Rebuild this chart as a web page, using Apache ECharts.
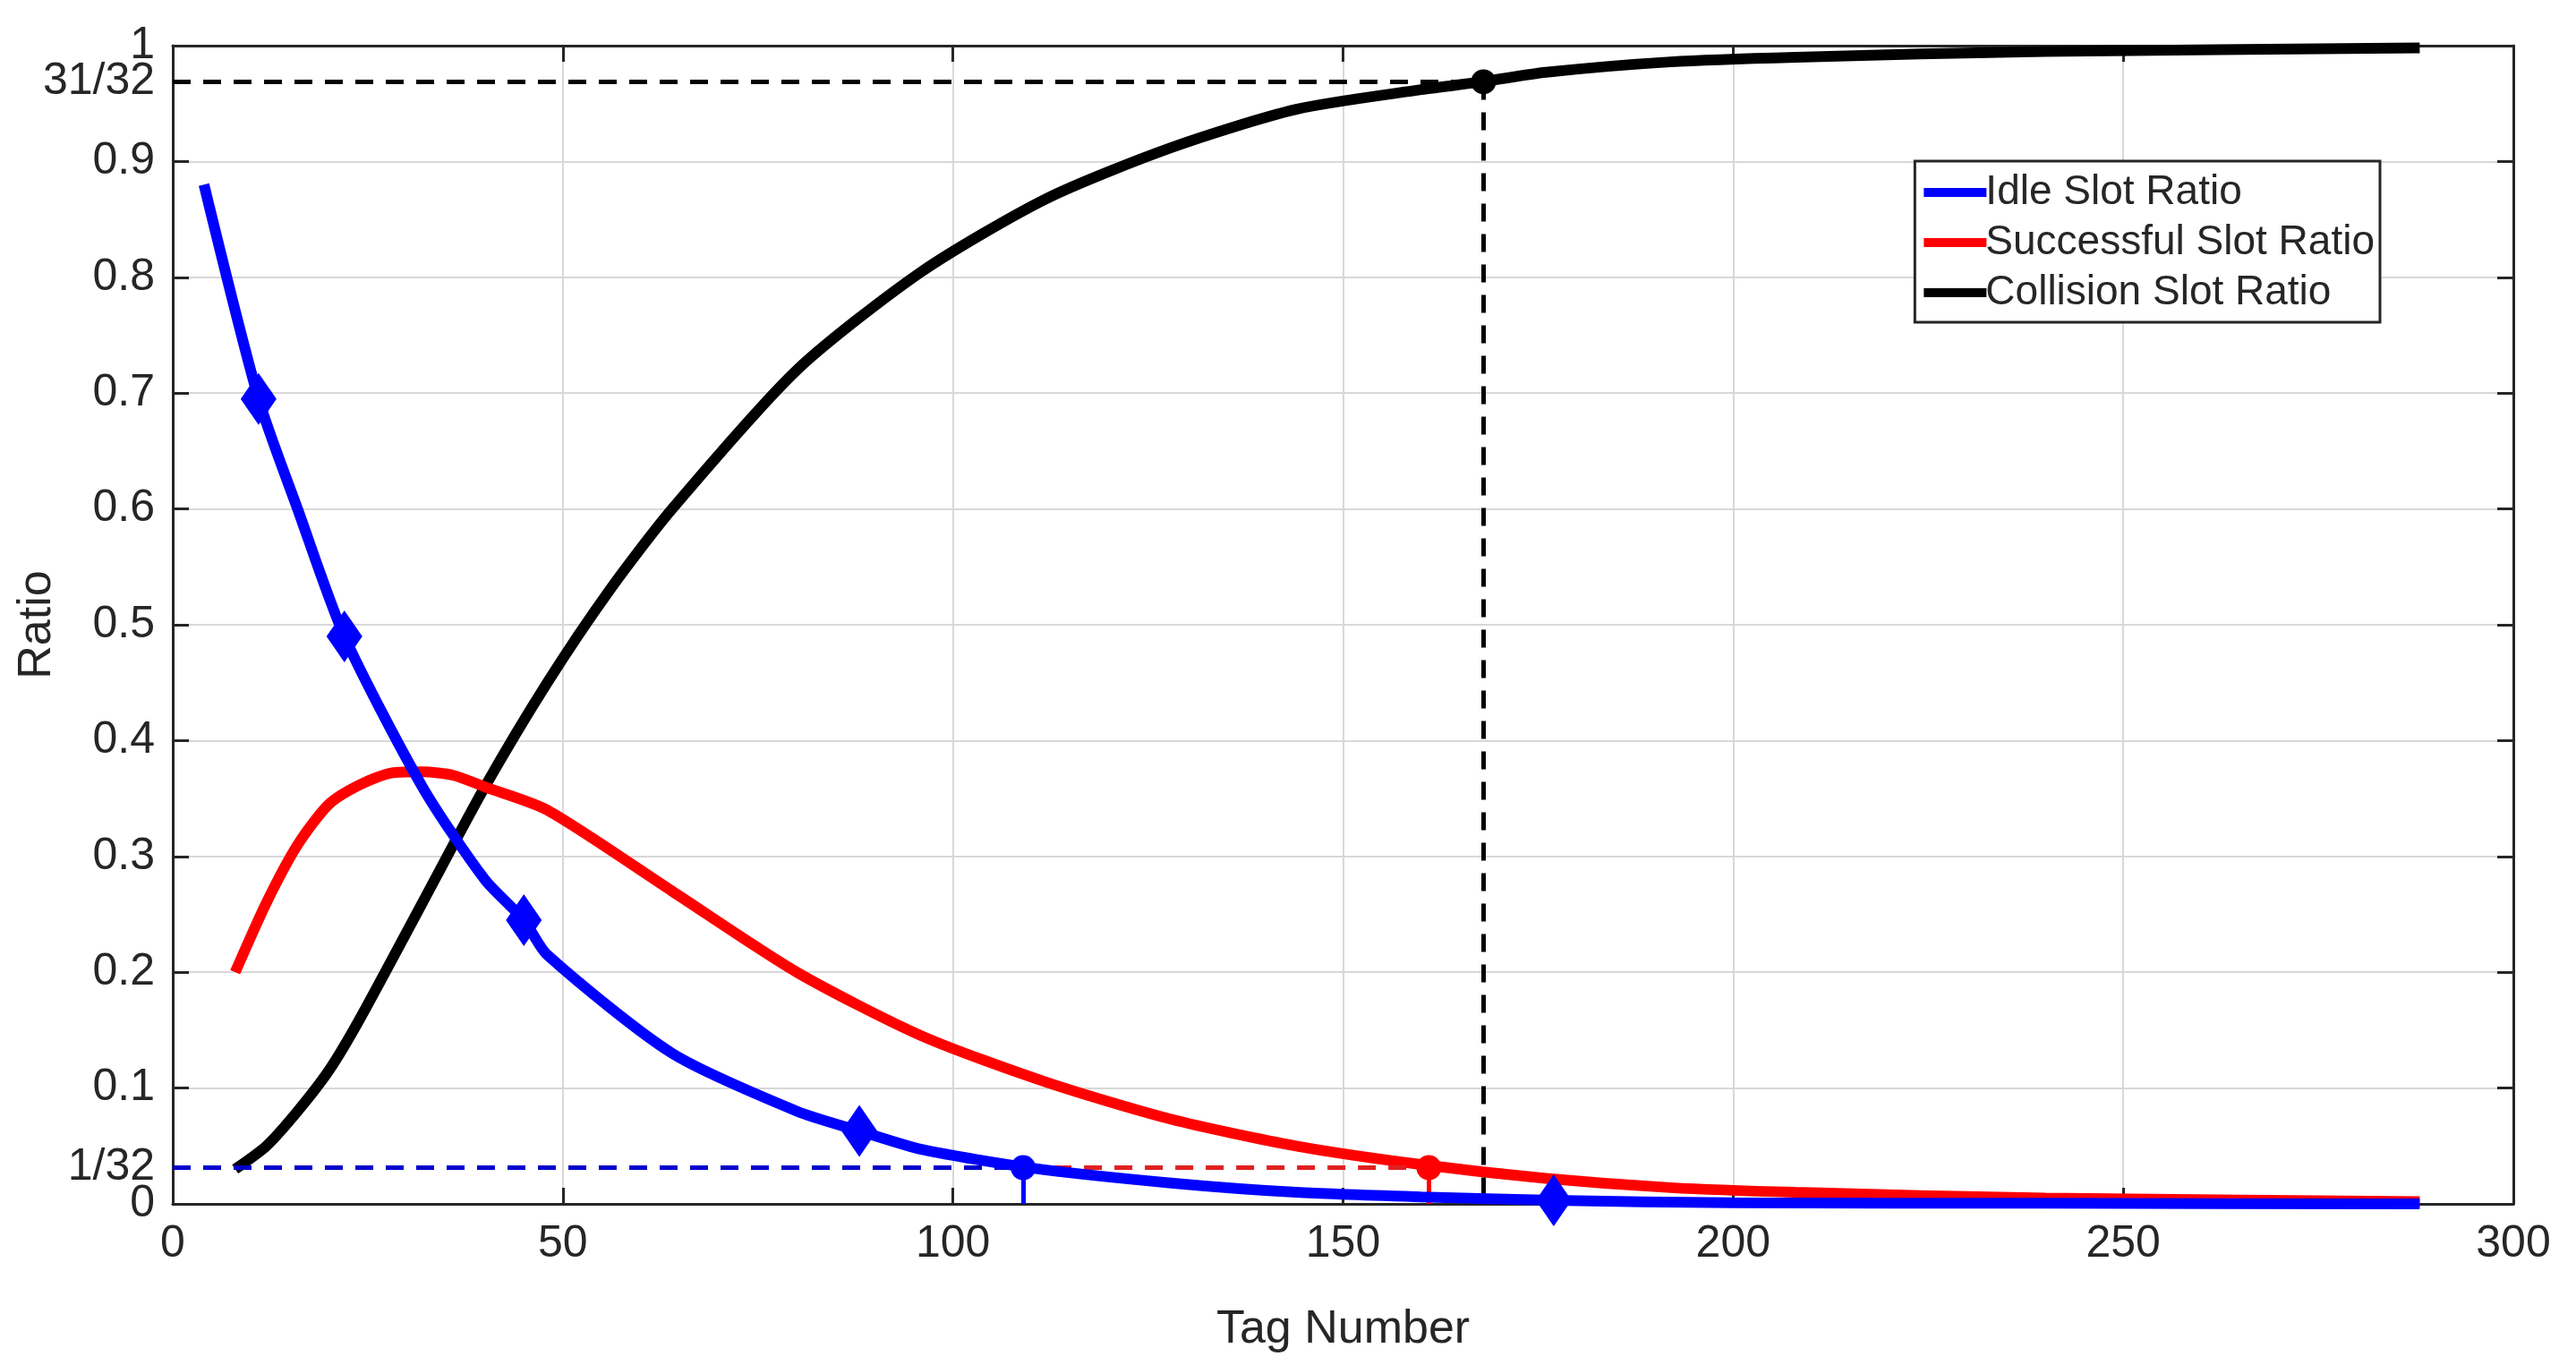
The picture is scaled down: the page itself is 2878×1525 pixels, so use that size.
<!DOCTYPE html>
<html><head><meta charset="utf-8">
<script src="https://cdn.jsdelivr.net/npm/echarts@6/dist/echarts.min.js"></script>
<style>html,body{margin:0;background:#fff}#c{width:2878px;height:1525px}</style>
</head><body><div id="c"></div>
<script>
// 读图估计的数据
var idleX = [4, 11, 16, 22, 32, 40, 45, 48, 64, 80, 88, 96, 110, 128, 144, 160, 177, 200, 240, 288];
var idleY = [0.88, 0.695, 0.6, 0.49, 0.36, 0.28, 0.245, 0.215, 0.13, 0.08, 0.063, 0.047, 0.031, 0.018, 0.01, 0.006, 0.003, 0.001, 0.0005, 0];
var idleMarks = [11, 22, 45, 88, 177];
var succX = [8, 12, 16, 20, 24, 28, 32, 36, 40, 48, 64, 80, 96, 112, 128, 144, 160, 176, 192, 208, 240, 288];
var succY = [0.2, 0.26, 0.31, 0.345, 0.362, 0.372, 0.373, 0.37, 0.36, 0.34, 0.27, 0.2, 0.145, 0.105, 0.073, 0.05, 0.034, 0.022, 0.014, 0.01, 0.005, 0.002];
var collX = [8, 12, 16, 20, 24, 32, 40, 48, 56, 64, 80, 96, 112, 128, 144, 160, 168, 176, 192, 208, 240, 288];
var collY = [0.03, 0.05, 0.08, 0.115, 0.16, 0.26, 0.36, 0.45, 0.53, 0.6, 0.72, 0.805, 0.868, 0.912, 0.945, 0.962, 0.969, 0.977, 0.986, 0.99, 0.995, 0.998];
var idleCross = 109, succCross = 161, collCross = 168;
var lo = 1 / 32, hi = 31 / 32;

function zip(xs, ys) { return xs.map(function (x, i) { return [x, ys[i]]; }); }
var idleData = zip(idleX, idleY).map(function (p) {
    return idleMarks.indexOf(p[0]) >= 0 ? { value: p, symbol: 'diamond', symbolSize: [40, 58] } : { value: p, symbol: 'none' };
});

var font = 'Liberation Sans';
var myChart = echarts.init(document.getElementById('c'));
var axisCommon = {
    axisLine: { show: true, onZero: false, lineStyle: { color: '#262626', width: 3 } },
    axisTick: { show: true, inside: true, length: 18, lineStyle: { color: '#262626', width: 3 } },
    axisLabel: { color: '#262626', fontSize: 50, fontFamily: font, margin: 20 },
    splitLine: { show: true, lineStyle: { color: '#d8d8d8', width: 2 } }
};
var lblStyle = { fontSize: 50, fontFamily: font, color: '#262626', distance: 20 };
var option = {
    animation: false,
    grid: { left: 193, right: 70, top: 51, bottom: 180 },
    xAxis: [
        Object.assign({ type: 'value', min: 0, max: 300, interval: 50, name: 'Tag Number', nameLocation: 'middle', nameGap: 115,
            nameTextStyle: { fontSize: 52, fontFamily: font, color: '#262626' } }, axisCommon),
        { type: 'value', min: 0, max: 300, interval: 50, position: 'top',
            axisLine: axisCommon.axisLine, axisTick: axisCommon.axisTick, axisLabel: { show: false }, splitLine: { show: false } }
    ],
    yAxis: [
        Object.assign({ type: 'value', min: 0, max: 1, interval: 0.1, name: 'Ratio', nameLocation: 'middle', nameGap: 125,
            nameTextStyle: { fontSize: 52, fontFamily: font, color: '#262626' } }, axisCommon,
            { axisLabel: { color: '#262626', fontSize: 50, fontFamily: font, margin: 20,
                formatter: function (v) { return v === 0 || v === 1 ? String(v) : v.toFixed(1); } } }),
        { type: 'value', min: 0, max: 1, interval: 0.1, position: 'right',
            axisLine: axisCommon.axisLine, axisTick: axisCommon.axisTick, axisLabel: { show: false }, splitLine: { show: false } }
    ],
    legend: {
        right: 219, top: 180, orient: 'vertical', itemGap: 10, itemWidth: 70, itemHeight: 10,
        backgroundColor: '#fff', borderColor: '#262626', borderWidth: 3, padding: [12, 6, 10, 10],
        textStyle: { fontSize: 46, fontFamily: font, color: '#262626', padding: [0, 0, 0, -6] },
        data: [
            { name: 'Idle Slot Ratio', icon: 'rect' },
            { name: 'Successful Slot Ratio', icon: 'rect' },
            { name: 'Collision Slot Ratio', icon: 'rect' }
        ]
    },
    series: [
        { name: 'Idle Slot Ratio', type: 'line', smooth: 0.25, data: idleData, lineStyle: { color: '#0000ff', width: 12 },
            itemStyle: { color: '#0000ff' }, z: 5,
            markLine: { silent: true, symbol: 'none', animation: false, data: [
                [{ coord: [0, lo], lineStyle: { color: '#0000cc', type: [20, 14], width: 5 },
                    label: Object.assign({ show: true, position: 'start', formatter: '1/32' }, lblStyle) },
                 { coord: [idleCross, lo] }],
                [{ coord: [idleCross, lo], symbol: 'circle', symbolSize: 28, lineStyle: { color: '#0000ff', type: 'solid', width: 5 }, label: { show: false } },
                 { coord: [idleCross, 0], symbol: 'none' }]
            ] } },
        { name: 'Successful Slot Ratio', type: 'line', smooth: 0.25, data: zip(succX, succY), showSymbol: false, symbol: 'none',
            lineStyle: { color: '#ff0000', width: 12 }, itemStyle: { color: '#ff0000' }, z: 4,
            markLine: { silent: true, symbol: 'none', animation: false, label: { show: false }, data: [
                [{ coord: [idleCross, lo], lineStyle: { color: '#e02020', type: [20, 14], width: 5 } }, { coord: [succCross, lo] }],
                [{ coord: [succCross, lo], symbol: 'circle', symbolSize: 28, lineStyle: { color: '#ff0000', type: 'solid', width: 5 } },
                 { coord: [succCross, 0], symbol: 'none' }]
            ] } },
        { name: 'Collision Slot Ratio', type: 'line', smooth: 0.25, data: zip(collX, collY), showSymbol: false, symbol: 'none',
            lineStyle: { color: '#000', width: 12 }, itemStyle: { color: '#000' }, z: 3,
            markLine: { silent: true, symbol: 'none', animation: false, data: [
                [{ coord: [0, hi], lineStyle: { color: '#000', type: [20, 14], width: 5 },
                    label: Object.assign({ show: true, position: 'start', formatter: '31/32' }, lblStyle) },
                 { coord: [collCross, hi] }],
                [{ coord: [collCross, hi], symbol: 'circle', symbolSize: 28, lineStyle: { color: '#000', type: [20, 14], width: 5 }, label: { show: false } },
                 { coord: [collCross, 0], symbol: 'none' }]
            ] } }
    ]
};
myChart.setOption(option);
</script></body></html>
